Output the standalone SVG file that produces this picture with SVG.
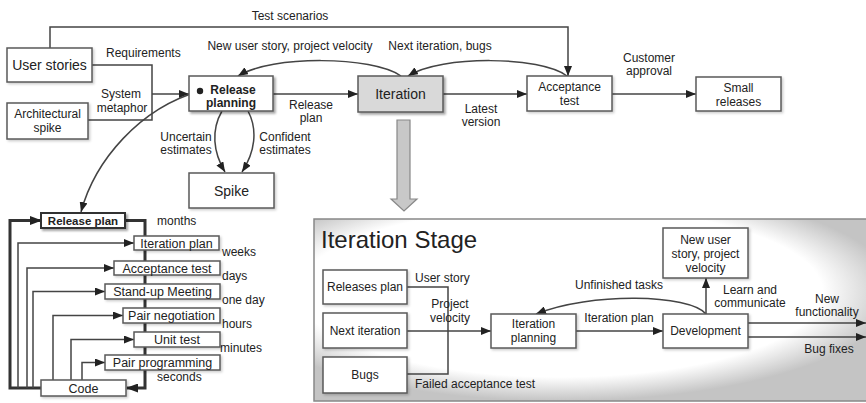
<svg xmlns="http://www.w3.org/2000/svg" width="866" height="403" viewBox="0 0 866 403">
  <defs>
    <marker id="arr" markerUnits="userSpaceOnUse" markerWidth="10" markerHeight="8" refX="10" refY="4" orient="auto">
      <path d="M0,0 L10,4 L0,8 z" fill="#222"/>
    </marker>
    <marker id="arrBig" markerUnits="userSpaceOnUse" markerWidth="12" markerHeight="9" refX="11" refY="4.5" orient="auto">
      <path d="M0,0 L12,4.5 L0,9 z" fill="#222"/>
    </marker>
    <filter id="shadow" x="-10%" y="-10%" width="130%" height="140%">
      <feDropShadow dx="2" dy="2" stdDeviation="1" flood-color="#000" flood-opacity="0.35"/>
    </filter>
    <filter id="softShadow" x="-10%" y="-10%" width="130%" height="140%">
      <feDropShadow dx="1.5" dy="1.5" stdDeviation="0.8" flood-color="#000" flood-opacity="0.2"/>
    </filter>
    <radialGradient id="panelShade" cx="0.44" cy="0.4" r="0.6">
      <stop offset="0" stop-color="#ffffff"/>
      <stop offset="0.78" stop-color="#ffffff"/>
      <stop offset="1" stop-color="#c4c4c4"/>
    </radialGradient>
  </defs>
  <style>
    text { font-family: "Liberation Sans", Arial, sans-serif; fill: #222; }
    .lbl { font-size: 12px; }
    .big { font-size: 14px; text-anchor: middle; }
    .box { font-size: 12px; text-anchor: middle; }
    .stk { font-size: 12.5px; text-anchor: middle; }
    .bold { font-weight: bold; }
    .mid { text-anchor: middle; }
    .node { fill: #fff; stroke: #5a5a5a; stroke-width: 1.5; }
    .gray { fill: #d9d9d9; }
    .strong { stroke: #333; stroke-width: 2; }
    .link { fill: none; stroke: #444; stroke-width: 1.5; }
    .thick { fill: none; stroke: #333; stroke-width: 3; }
    .heavy { fill: none; stroke: #333; stroke-width: 3; marker-end: url(#arrBig); }
    .arrow { marker-end: url(#arr); }
  </style>

  <rect width="866" height="403" fill="#fff"/>

  <!-- Iteration stage panel -->
  <g id="iteration-stage-panel">
    <rect x="314" y="219" width="560" height="182" fill="url(#panelShade)" stroke="#888" stroke-width="1.5"/>
    <text x="321" y="248" style="font-size:24px">Iteration Stage</text>
  </g>

  <!-- expansion arrow from Iteration down to its stage -->
  <g id="expand-arrow">
    <polygon points="397,120 410,120 410,199 417,199 404,211 391,199 397,199" fill="#c8c8c8" stroke="#888" stroke-width="1.2"/>
  </g>

  <!-- connectors -->
  <g id="connectors">
    <!-- top flow -->
    <path class="link arrow" d="M50,48 V27 H568 V76"/>
    <path class="link" d="M92,65 H152 V120 H88"/>
    <path class="link arrow" d="M152,94 H189"/>
    <path class="link arrow" d="M401,76 C372,56 272,55 238,76"/>
    <path class="link arrow" d="M567,76 C540,56 442,55 408,76"/>
    <path class="link arrow" d="M273,94 H358"/>
    <path class="link arrow" d="M443,94 H527"/>
    <path class="link arrow" d="M612,94 H696"/>
    <path class="link arrow" d="M222,111 C211,130 213,152 225,172"/>
    <path class="link arrow" d="M248,111 C258,130 255,152 242,172"/>
    <path class="link arrow" d="M200,91 C140,108 95,160 81,212"/>

    <!-- release plan cadence stack -->
    <path class="heavy" d="M41,388 H10 V220.5 H41"/>
    <path class="heavy" d="M125,220.5 H145 V388 H127"/>
    <path class="link arrow" d="M18,388 V243 H134"/>
    <path class="link arrow" d="M27,388 V268 H114"/>
    <path class="link arrow" d="M33,388 V291.5 H105"/>
    <path class="link arrow" d="M53,380 V315.5 H123"/>
    <path class="link arrow" d="M71,380 V339.5 H134"/>
    <path class="link arrow" d="M82,380 V362.5 H105"/>

    <!-- iteration stage flow -->
    <path class="link" d="M407,287 H448 V374 H407"/>
    <path class="link arrow" d="M407,331 H491"/>
    <path class="link arrow" d="M576,331 H663"/>
    <path class="link arrow" d="M706,314 V278"/>
    <path class="link arrow" d="M706,314 C690,294 590,292 536,314"/>
    <path class="link arrow" d="M748,323 H866"/>
    <path class="link arrow" d="M748,337 H866"/>
  </g>

  <!-- connector labels -->
  <g id="labels">
    <text class="lbl mid" x="290" y="20">Test scenarios</text>
    <text class="lbl" x="106" y="57">Requirements</text>
    <text class="lbl mid" x="121" y="98">System</text>
    <text class="lbl mid" x="122" y="112">metaphor</text>
    <text class="lbl mid" x="290" y="50">New user story, project velocity</text>
    <text class="lbl mid" x="440" y="50">Next iteration, bugs</text>
    <text class="lbl mid" x="311" y="109">Release</text>
    <text class="lbl mid" x="311" y="122">plan</text>
    <text class="lbl mid" x="481" y="113">Latest</text>
    <text class="lbl mid" x="481" y="126">version</text>
    <text class="lbl mid" x="649" y="62">Customer</text>
    <text class="lbl mid" x="649" y="75">approval</text>
    <text class="lbl mid" x="186" y="141">Uncertain</text>
    <text class="lbl mid" x="186" y="154">estimates</text>
    <text class="lbl mid" x="285" y="141">Confident</text>
    <text class="lbl mid" x="285" y="154">estimates</text>

    <text class="lbl" x="157" y="225">months</text>
    <text class="lbl" x="222" y="256">weeks</text>
    <text class="lbl" x="222" y="280">days</text>
    <text class="lbl" x="222" y="304">one day</text>
    <text class="lbl" x="222" y="328">hours</text>
    <text class="lbl" x="220" y="352">minutes</text>
    <text class="lbl" x="157" y="381">seconds</text>

    <text class="lbl" x="415" y="282">User story</text>
    <text class="lbl mid" x="450" y="308">Project</text>
    <text class="lbl mid" x="450" y="322">velocity</text>
    <text class="lbl" x="415" y="388">Failed acceptance test</text>
    <text class="lbl mid" x="619" y="322">Iteration plan</text>
    <text class="lbl mid" x="619" y="289">Unfinished tasks</text>
    <text class="lbl mid" x="750" y="294">Learn and</text>
    <text class="lbl mid" x="750" y="307">communicate</text>
    <text class="lbl mid" x="827" y="303">New</text>
    <text class="lbl mid" x="827" y="316">functionality</text>
    <text class="lbl mid" x="829" y="353">Bug fixes</text>
  </g>

  <!-- top level nodes -->
  <g id="user-stories">
    <rect class="node" x="7" y="48" width="85" height="34" filter="url(#softShadow)"/>
    <text class="big" x="49.5" y="70">User stories</text>
  </g>
  <g id="architectural-spike">
    <rect class="node" x="7" y="103" width="81" height="36" filter="url(#softShadow)"/>
    <text class="box" x="47.5" y="118">Architectural</text>
    <text class="box" x="47.5" y="132">spike</text>
  </g>
  <g id="release-planning">
    <rect class="node" x="189" y="76" width="84" height="35" filter="url(#shadow)"/>
    <text class="box bold" x="233" y="94">Release</text>
    <text class="box bold" x="231" y="107">planning</text>
    <circle cx="200" cy="91" r="3.2" fill="#222"/>
  </g>
  <g id="iteration">
    <rect class="node gray" x="358" y="76" width="85" height="36" filter="url(#shadow)"/>
    <text class="big" x="400.5" y="99">Iteration</text>
  </g>
  <g id="acceptance-test">
    <rect class="node" x="527" y="76" width="85" height="35" filter="url(#softShadow)"/>
    <text class="box" x="569.5" y="91">Acceptance</text>
    <text class="box" x="569.5" y="105">test</text>
  </g>
  <g id="small-releases">
    <rect class="node" x="696" y="77" width="85" height="34" filter="url(#softShadow)"/>
    <text class="box" x="738.5" y="92">Small</text>
    <text class="box" x="738.5" y="106">releases</text>
  </g>
  <g id="spike">
    <rect class="node" x="189" y="173" width="85" height="35" filter="url(#softShadow)"/>
    <text class="big" x="231.5" y="196">Spike</text>
  </g>

  <!-- release plan cadence nodes -->
  <g id="release-plan">
    <rect class="node strong" x="41" y="213" width="84" height="15" filter="url(#shadow)"/>
    <text class="stk bold" x="83" y="225" style="font-size:11.5px">Release plan</text>
  </g>
  <g id="iteration-plan">
    <rect class="node" x="134" y="236" width="85" height="14" filter="url(#softShadow)"/>
    <text class="stk" x="176.5" y="247.5">Iteration plan</text>
  </g>
  <g id="acceptance-test-cadence">
    <rect class="node" x="114" y="261" width="106" height="14" filter="url(#softShadow)"/>
    <text class="stk" x="167" y="272.5">Acceptance test</text>
  </g>
  <g id="stand-up-meeting">
    <rect class="node" x="105" y="284" width="115" height="15" filter="url(#softShadow)"/>
    <text class="stk" x="162.5" y="296">Stand-up Meeting</text>
  </g>
  <g id="pair-negotiation">
    <rect class="node" x="123" y="308" width="97" height="15" filter="url(#softShadow)"/>
    <text class="stk" x="171.5" y="320">Pair negotiation</text>
  </g>
  <g id="unit-test">
    <rect class="node" x="134" y="332" width="86" height="15" filter="url(#softShadow)"/>
    <text class="stk" x="177" y="344">Unit test</text>
  </g>
  <g id="pair-programming">
    <rect class="node" x="105" y="355" width="115" height="15" filter="url(#softShadow)"/>
    <text class="stk" x="162.5" y="367">Pair programming</text>
  </g>
  <g id="code">
    <rect class="node" x="41" y="380" width="85" height="16" filter="url(#softShadow)"/>
    <text class="stk" x="83.5" y="392.5">Code</text>
  </g>

  <!-- iteration stage nodes -->
  <g id="releases-plan">
    <rect class="node" x="323" y="270" width="84" height="34" filter="url(#softShadow)"/>
    <text class="box" x="365" y="291">Releases plan</text>
  </g>
  <g id="next-iteration">
    <rect class="node" x="323" y="313" width="84" height="35" filter="url(#softShadow)"/>
    <text class="box" x="365" y="335">Next iteration</text>
  </g>
  <g id="bugs">
    <rect class="node" x="323" y="357" width="84" height="36" filter="url(#softShadow)"/>
    <text class="box" x="365" y="379">Bugs</text>
  </g>
  <g id="iteration-planning">
    <rect class="node" x="491" y="314" width="85" height="34" filter="url(#softShadow)"/>
    <text class="box" x="533.5" y="328">Iteration</text>
    <text class="box" x="533.5" y="342">planning</text>
  </g>
  <g id="development">
    <rect class="node" x="663" y="314" width="85" height="34" filter="url(#softShadow)"/>
    <text class="box" x="705.5" y="335">Development</text>
  </g>
  <g id="new-user-story">
    <rect class="node" x="663" y="228" width="85" height="50" filter="url(#softShadow)"/>
    <text class="box" x="705.5" y="244">New user</text>
    <text class="box" x="705.5" y="258">story, project</text>
    <text class="box" x="705.5" y="272">velocity</text>
  </g>
</svg>
